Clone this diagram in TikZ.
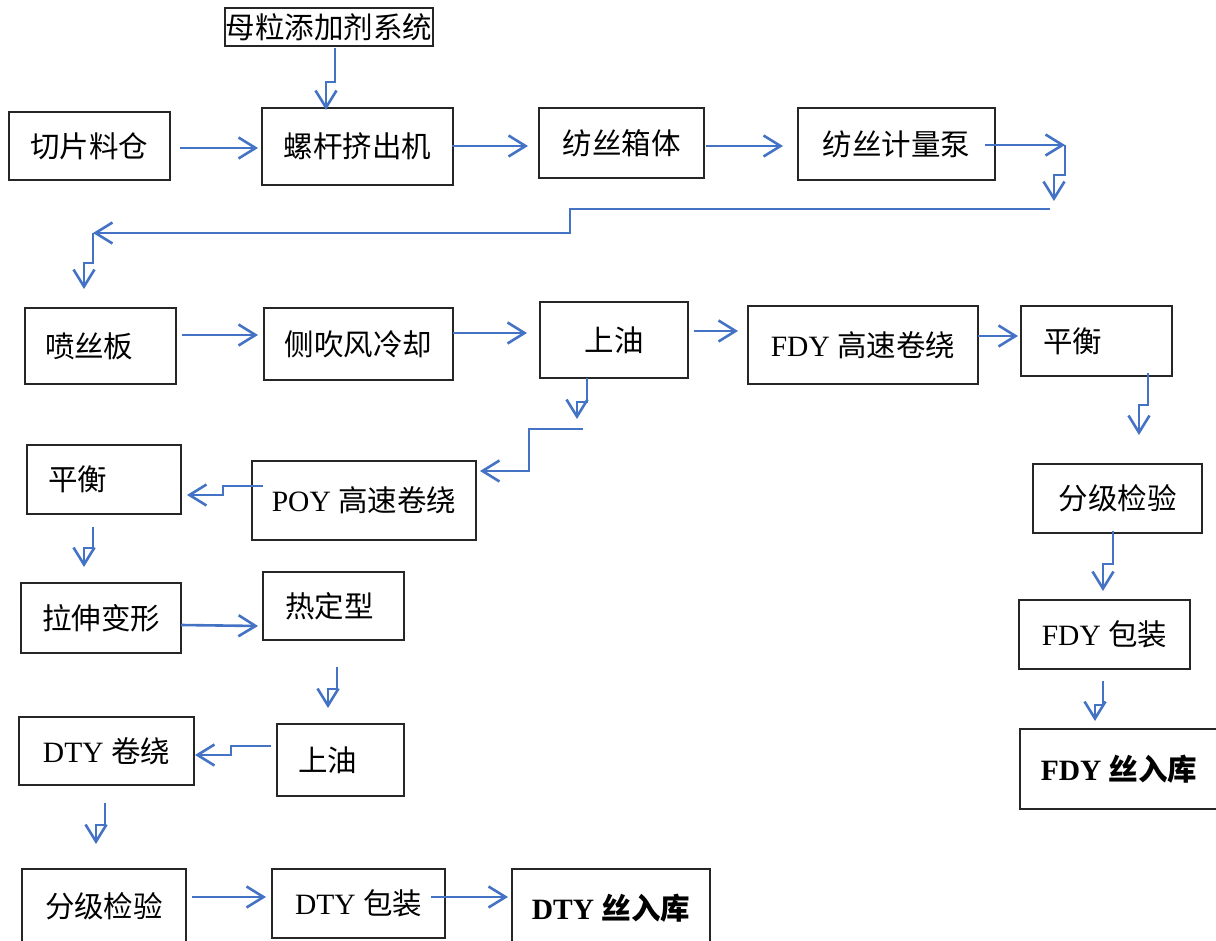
\documentclass[tikz,border=0pt]{standalone}
\usepackage{fontspec}
\setmainfont{Liberation Serif}
\newfontfamily\cjk{Noto Sans CJK SC}
\usetikzlibrary{arrows.meta}
\definecolor{flowblue}{HTML}{4472C4}
\begin{document}
\begin{tikzpicture}[x=1pt,y=-1pt,
  box/.style={draw=black!85,line width=1.3pt,inner sep=0pt,font=\fontsize{29.5pt}{33pt}\selectfont},
  lbox/.style={box,align=left,inner xsep=#1},
  arr/.style={draw=flowblue,line width=2.6pt,-{Straight Barb[length=17pt,width=21pt]}},
  ln/.style={draw=flowblue,line width=2.6pt}]
\useasboundingbox (0,0) rectangle (1216,941);
% nodes
\node[box,minimum width=208,minimum height=38] (m) at (329,27) {\cjk 母粒添加剂系统};
\node[box,minimum width=161,minimum height=68] (a) at (89.5,146) {\cjk 切片料仓};
\node[box,minimum width=191,minimum height=77] (b) at (357.5,146.5) {\cjk 螺杆挤出机};
\node[box,minimum width=165,minimum height=70] (c) at (621.5,143) {\cjk 纺丝箱体};
\node[box,minimum width=197,minimum height=72] (d) at (896.5,144) {\cjk 纺丝计量泵};
\node[lbox=20pt,text width=111pt,minimum height=76] (e) at (100.5,346) {\cjk 喷丝板};
\node[box,minimum width=189,minimum height=72] (f) at (358.5,344) {\cjk 侧吹风冷却};
\node[box,minimum width=148,minimum height=76] (g) at (614,340) {\cjk 上油};
\node[box,minimum width=230,minimum height=78] (h) at (863,345) {FDY {\cjk 高速卷绕}};
\node[lbox=22pt,text width=107pt,minimum height=70] (i) at (1096.5,341) {\cjk 平衡};
\node[lbox=21pt,text width=112pt,minimum height=69] (j) at (104,479.5) {\cjk 平衡};
\node[box,minimum width=224,minimum height=79] (k) at (364,500.5) {POY {\cjk 高速卷绕}};
\node[box,minimum width=169,minimum height=69] (l) at (1117.5,498.5) {\cjk 分级检验};
\node[box,minimum width=160,minimum height=70] (mm) at (101,618) {\cjk 拉伸变形};
\node[lbox=22pt,text width=97pt,minimum height=68] (n) at (333.5,606) {\cjk 热定型};
\node[box,minimum width=171,minimum height=69] (o) at (1104.5,634.5) {FDY {\cjk 包装}};
\node[box,minimum width=175,minimum height=68] (p) at (106.5,751) {DTY {\cjk 卷绕}};
\node[lbox=21pt,text width=85pt,minimum height=72] (q) at (340.5,760) {\cjk 上油};
\node[box,minimum width=198,minimum height=80] (r) at (1119,769) {\bfseries FDY {\cjk 丝入库}};
\node[box,minimum width=164,minimum height=74] (s) at (104,906) {\cjk 分级检验};
\node[box,minimum width=173,minimum height=69] (t) at (358.5,903.5) {DTY {\cjk 包装}};
\node[box,minimum width=198,minimum height=78] (u) at (611,908) {\bfseries DTY {\cjk 丝入库}};
% connectors
\draw[arr] (335,48) -- (335,82) -- (326,82) -- (326,110);
\draw[arr] (180,148) -- (258,148);
\draw[arr] (452,146) -- (528,146);
\draw[arr] (706,146) -- (783,146);
\draw[arr] (985,145) -- (1065,145);
\draw[arr] (1065,145) -- (1065,175) -- (1054,175) -- (1054,201);
\draw[arr] (1050,209) -- (570,209) -- (570,233) -- (93,233);
\draw[arr] (93,233) -- (93,263) -- (84,263) -- (84,289);
\draw[arr] (182,335) -- (258,335);
\draw[arr] (453,333) -- (527,333);
\draw[arr] (694,331) -- (738,331);
\draw[arr] (978,336) -- (1018,336);
\draw[arr] (587,378) -- (587,402) -- (577,402) -- (577,419);
\draw[arr] (583,429) -- (529,429) -- (529,471) -- (480,471);
\draw[arr] (263,486) -- (223,486) -- (223,495) -- (187,495);
\draw[arr] (93,527) -- (93,548) -- (84,548) -- (84,567);
\draw[arr] (181,625) -- (258,626);
\draw[arr] (337,667) -- (337,689) -- (328,689) -- (328,708);
\draw[arr] (271,746) -- (231,746) -- (231,755) -- (195,755);
\draw[arr] (105,803) -- (105,825) -- (96,825) -- (96,844);
\draw[arr] (192,897) -- (266,897);
\draw[arr] (431,897) -- (508,897);
\draw[arr] (1148,373) -- (1148,405) -- (1139,405) -- (1139,435);
\draw[arr] (1113,531) -- (1113,564) -- (1103,564) -- (1103,591);
\draw[arr] (1103,681) -- (1103,705) -- (1095,705) -- (1095,721);
\end{tikzpicture}
\end{document}
